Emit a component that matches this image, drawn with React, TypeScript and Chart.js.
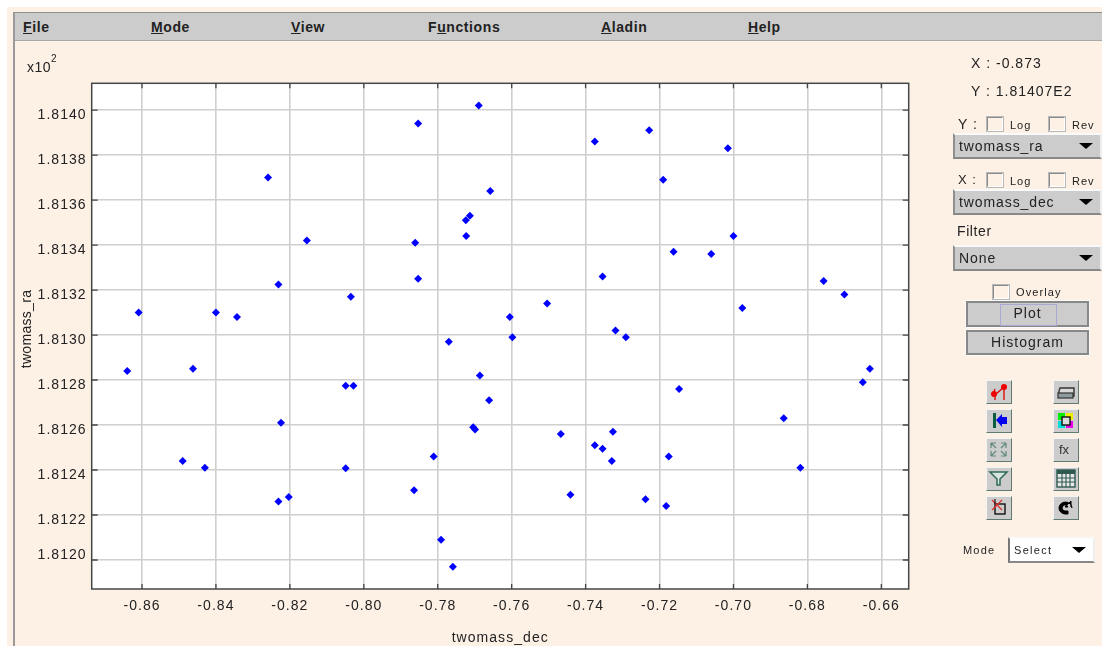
import React, { useEffect, useRef } from "react";
import { Chart, registerables } from "chart.js";

Chart.register(...registerables);

const decValues = [
  -0.7689, -0.7853, -0.8259, -0.7658, -0.7713, -0.7724, -0.7723, -0.8154, -0.7861, -0.7853, -0.8231, -0.8035,
  -0.8609, -0.84, -0.8343, -0.7228, -0.7375, -0.7015, -0.719, -0.7, -0.7162, -0.706, -0.7354, -0.6756,
  -0.67, -0.7504, -0.6976, -0.7605, -0.7319, -0.7291, -0.7598, -0.777, -0.864, -0.8462, -0.7686, -0.8049,
  -0.8028, -0.7661, -0.8224, -0.7704, -0.7699, -0.7811, -0.849, -0.843, -0.8049, -0.7864, -0.8231, -0.8203,
  -0.7791, -0.7759, -0.6631, -0.665, -0.7147, -0.6864, -0.7467, -0.7326, -0.7375, -0.7354, -0.7329, -0.7175,
  -0.6819, -0.7441, -0.7238, -0.7182,
];
const raValues = [
  1.81402, 1.81394, 1.8137, 1.81364, 1.81353, 1.81351, 1.81344, 1.81342, 1.81341, 1.81325, 1.813225, 1.81317,
  1.8131, 1.8131, 1.81308, 1.81391, 1.81386, 1.81383, 1.81369, 1.81344, 1.81337, 1.81336, 1.81326, 1.81324,
  1.81318, 1.81314, 1.81312, 1.81308, 1.81302, 1.81299, 1.81299, 1.81297, 1.81284, 1.81285, 1.81282, 1.812775,
  1.812775, 1.81271, 1.81261, 1.81259, 1.81258, 1.81246, 1.81244, 1.81241, 1.812408, 1.81231, 1.81226, 1.81228,
  1.81209, 1.81197, 1.81285, 1.81279, 1.81276, 1.81263, 1.81256, 1.81257, 1.81251, 1.812495, 1.81244, 1.81246,
  1.81241, 1.81229, 1.81227, 1.81224,
];
const xTickValues = [-0.86, -0.84, -0.82, -0.8, -0.78, -0.76, -0.74, -0.72, -0.7, -0.68, -0.66];
const yTickValues = [1.814, 1.8138, 1.8136, 1.8134, 1.8132, 1.813, 1.8128, 1.8126, 1.8124, 1.8122, 1.812];
const xAxisTitle = "twomass_dec";
const yAxisTitle = "twomass_ra";
const menuItems = [
  { before: "", key: "F", after: "ile", left: 23 },
  { before: "", key: "M", after: "ode", left: 151 },
  { before: "", key: "V", after: "iew", left: 291 },
  { before: "F", key: "u", after: "nctions", left: 428 },
  { before: "", key: "A", after: "ladin", left: 601 },
  { before: "", key: "H", after: "elp", left: 748 },
];

const FONT = '"Liberation Sans", Arial, sans-serif';
const BEIGE = "#fdf1e6";
const GREY = "#cccccc";

const framePlugin = {
  id: "frame",
  beforeDraw(chart: any) {
    const { left, top, width, height } = chart.chartArea;
    chart.ctx.save();
    chart.ctx.fillStyle = "#ffffff";
    chart.ctx.fillRect(left, top, width, height);
    chart.ctx.restore();
    (chart.ctx as any).letterSpacing = "1.05px";
  },
  afterDatasetsDraw(chart: any) {},
  afterDraw(chart: any) {
    const { ctx, chartArea, scales } = chart;
    const { left, right, top, bottom } = chartArea;
    ctx.save();
    ctx.strokeStyle = "#454545";
    ctx.lineWidth = 1.5;
    ctx.strokeRect(left, top, right - left, bottom - top);
    ctx.lineWidth = 1.3;
    ctx.beginPath();
    for (const v of xTickValues) {
      const p = scales.x.getPixelForValue(v);
      ctx.moveTo(p, top);
      ctx.lineTo(p, top + 5);
      ctx.moveTo(p, bottom);
      ctx.lineTo(p, bottom - 5);
    }
    for (const v of yTickValues) {
      const p = scales.y.getPixelForValue(v);
      ctx.moveTo(left, p);
      ctx.lineTo(left + 6, p);
      ctx.moveTo(right, p);
      ctx.lineTo(right - 6, p);
    }
    ctx.stroke();
    ctx.translate(27.5, 329);
    ctx.rotate(-Math.PI / 2);
    (ctx as any).letterSpacing = "0.3px";
    ctx.fillStyle = "#222222";
    ctx.font = `14px ${FONT}`;
    ctx.textAlign = "center";
    ctx.textBaseline = "middle";
    ctx.fillText(yAxisTitle, 0, 0);
    ctx.restore();
  },
};

function Txt(p: { x: number; y: number; s?: number; sp?: number; b?: boolean; children: any }) {
  return (
    <div
      style={{
        position: "absolute",
        left: p.x,
        top: p.y - 10,
        height: 20,
        lineHeight: "20px",
        fontSize: p.s ?? 14,
        letterSpacing: p.sp ?? 1,
        fontWeight: p.b ? 700 : 400,
        color: "#222",
        whiteSpace: "nowrap",
        fontFamily: FONT,
      }}
    >
      {p.children}
    </div>
  );
}

function Check(p: { x: number; y: number }) {
  return (
    <div
      style={{
        position: "absolute",
        left: p.x,
        top: p.y,
        width: 14,
        height: 12,
        background: BEIGE,
        borderTop: "1.5px solid #8a8a8a",
        borderLeft: "1.5px solid #8a8a8a",
        borderRight: "1px solid #ffffff",
        borderBottom: "1px solid #ffffff",
        outline: "0.5px solid #b8b8b8",
      }}
    />
  );
}

function Drop(p: { x: number; y: number; w: number; h: number; label: string; white?: boolean; s?: number; sp?: number }) {
  return (
    <div
      style={{
        position: "absolute",
        left: p.x,
        top: p.y,
        width: p.w,
        height: p.h,
        boxSizing: "border-box",
        background: p.white ? "#fff" : GREY,
        borderTop: "2px solid #fafafa",
        borderLeft: p.white ? "2px solid #777" : "2px solid #8f8f8f",
        borderRight: "2px solid #eeeeee",
        borderBottom: "2px solid #888888",
      }}
    >
      <Txt x={4} y={p.h / 2 - 2} s={p.s ?? 14} sp={p.sp ?? 0.9}>
        {p.label}
      </Txt>
      <div
        style={{
          position: "absolute",
          right: 7,
          top: p.h / 2 - 5,
          width: 0,
          height: 0,
          borderLeft: "7px solid transparent",
          borderRight: "7px solid transparent",
          borderTop: "6px solid #000",
        }}
      />
    </div>
  );
}

function Btn(p: { x: number; y: number; w: number; h: number; label: string; focus?: boolean }) {
  return (
    <div
      style={{
        position: "absolute",
        left: p.x,
        top: p.y,
        width: p.w,
        height: p.h,
        boxSizing: "border-box",
        background: GREY,
        borderTop: "2px solid #888",
        borderLeft: "2px solid #888",
        borderRight: "2px solid #888",
        borderBottom: "2px solid #888",
        outline: "1px solid #fafafa",
        textAlign: "center",
        lineHeight: `${p.h - 5}px`,
        fontSize: 14,
        letterSpacing: 1,
        color: "#222",
        fontFamily: FONT,
      }}
    >
      {p.label}
      {p.focus ? (
        <div
          style={{
            position: "absolute",
            left: 32,
            top: 1,
            width: 55,
            height: 20,
            border: "1px solid #a9a9d6",
          }}
        />
      ) : null}
    </div>
  );
}

function Icon(p: { x: number; y: number; children: any }) {
  return (
    <div
      style={{
        position: "absolute",
        left: p.x,
        top: p.y,
        width: 26,
        height: 24,
        boxSizing: "border-box",
        background: GREY,
        borderTop: "1.5px solid #f4f4f4",
        borderLeft: "1.5px solid #f4f4f4",
        borderRight: "1.5px solid #5f7a70",
        borderBottom: "1.5px solid #5f7a70",
      }}
    >
      <svg width="23" height="21" viewBox="0 0 23 21" style={{ display: "block" }}>
        {p.children}
      </svg>
    </div>
  );
}

export default function App() {
  const ref = useRef<HTMLCanvasElement>(null);

  useEffect(() => {
    const tickFont = { family: FONT, size: 14, lineHeight: 1.4 };
    const chart = new Chart(ref.current as HTMLCanvasElement, {
      type: "scatter",
      data: {
        datasets: [
          {
            label: yAxisTitle,
            data: decValues.map((x, i) => ({ x, y: raValues[i] })),
            backgroundColor: "#0000ff",
            borderColor: "#0000ff",
            pointStyle: "rectRot",
            pointRadius: 4,
            pointBorderWidth: 0,
          },
        ],
      },
      options: {
        animation: false,
        responsive: false,
        layout: { padding: { top: 83.3, right: 193.3, left: 0, bottom: 0 } },
        plugins: { legend: { display: false }, tooltip: { enabled: false } },
        scales: {
          x: {
            type: "linear",
            min: -0.87361,
            max: -0.65259,
            afterBuildTicks: (s: any) => {
              s.ticks = xTickValues.map((value) => ({ value }));
            },
            afterFit: (s: any) => {
              s.height = 57;
            },
            border: { display: false },
            grid: { color: "#cfcfcf", lineWidth: 1.6, drawTicks: false },
            ticks: {
              autoSkip: false,
              maxRotation: 0,
              padding: 9,
              color: "#222222",
              font: { family: FONT, size: 14 },
              callback: (v: any) => Number(v).toFixed(2),
            },
            title: {
              display: true,
              text: xAxisTitle,
              color: "#222222",
              font: { family: FONT, size: 14 },
              padding: { top: 0, bottom: -1 },
            },
          },
          y: {
            type: "linear",
            min: 1.811871,
            max: 1.814119,
            afterBuildTicks: (s: any) => {
              s.ticks = yTickValues.map((value) => ({ value }));
            },
            afterFit: (s: any) => {
              s.width = 91.7;
            },
            border: { display: false },
            grid: { color: "#cfcfcf", lineWidth: 1.6, drawTicks: false },
            ticks: {
              autoSkip: false,
              padding: 5,
              labelOffset: 4.7,
              color: "#222222",
              font: tickFont,
              callback: (v: any) => {
                const t = Number(v).toFixed(4);
                return Number(v) === yTickValues[yTickValues.length - 1] ? [t, ""] : t;
              },
            },
          },
        },
      } as any,
      plugins: [framePlugin],
    });
    return () => chart.destroy();
  }, []);

  return (
    <div
      style={{
        position: "absolute",
        left: 0,
        top: 0,
        width: 1102,
        height: 646,
        overflow: "hidden",
        background: "#fff",
        fontFamily: FONT,
        filter: "blur(0.35px)",
      }}
    >
      <div style={{ position: "absolute", left: 7, top: 7, width: 1095, height: 639, background: BEIGE }} />
      <div
        style={{
          position: "absolute",
          left: 14,
          top: 12,
          width: 1088,
          height: 29,
          boxSizing: "border-box",
          background: GREY,
          borderTop: "1.5px solid #8c8c8c",
          borderBottom: "1.5px solid #a8a8a8",
        }}
      />
      <div style={{ position: "absolute", left: 13, top: 12, width: 2, height: 634, background: "#9a9a9a" }} />
      {menuItems.map((m) => (
        <Txt key={m.left} x={m.left} y={27} b sp={0.6}>
          {m.before}
          <span style={{ textDecoration: "underline" }}>{m.key}</span>
          {m.after}
        </Txt>
      ))}
      <canvas ref={ref} width={1102} height={646} style={{ position: "absolute", left: 0, top: 0, display: "block" }} />
      <Txt x={27} y={67} s={14} sp={0.5}>
        x10
      </Txt>
      <Txt x={51} y={59} s={10} sp={0}>
        2
      </Txt>

      <Txt x={971} y={62.5}>X : -0.873</Txt>
      <Txt x={971} y={90.5}>Y : 1.81407E2</Txt>

      <Txt x={958} y={124}>Y :</Txt>
      <Check x={987} y={117} />
      <Txt x={1010} y={124.5} s={11} sp={1}>Log</Txt>
      <Check x={1049} y={117} />
      <Txt x={1072} y={124.5} s={11} sp={1}>Rev</Txt>
      <Drop x={953} y={133} w={149} h={26} label={yAxisTitle} />

      <Txt x={958} y={180} s={13}>X :</Txt>
      <Check x={987} y={173} />
      <Txt x={1010} y={180.5} s={11} sp={1}>Log</Txt>
      <Check x={1049} y={173} />
      <Txt x={1072} y={180.5} s={11} sp={1}>Rev</Txt>
      <Drop x={953} y={189} w={149} h={26} label={xAxisTitle} />

      <Txt x={957} y={230.5} sp={0.6}>Filter</Txt>
      <Drop x={953} y={245} w={149} h={26} label="None" />

      <Check x={993} y={285} />
      <Txt x={1016} y={292} s={11} sp={1.1}>Overlay</Txt>
      <Btn x={966} y={301} w={123} h={26} label="Plot" focus />
      <Btn x={966} y={330} w={123} h={25} label="Histogram" />

      <Icon x={986} y={380}>
        <path d="M6 14 L8 8 M8 14V19 M17 6 L9 13 M17 7V19" stroke="#e00000" strokeWidth="1.3" fill="none" />
        <circle cx="7" cy="13" r="3" fill="#ee0000" />
        <circle cx="17" cy="6" r="3" fill="#ee0000" />
      </Icon>
      <Icon x={1053} y={380}>
        <path d="M6 7 h14 v8 h-15 v-5z" fill="#d8d8d8" stroke="#333" strokeWidth="1.4" />
        <rect x="4" y="12" width="15" height="5" fill="#8d9aa0" stroke="#333" strokeWidth="1.2" />
      </Icon>
      <Icon x={986} y={409}>
        <rect x="6" y="3" width="3" height="15" fill="#0b5d3f" />
        <path d="M9 10 L15 4 V7 H20 V14 H15 V17 Z" fill="#0000ee" />
      </Icon>
      <Icon x={1053} y={409}>
        <rect x="4" y="3" width="7" height="7" fill="#00ee00" />
        <rect x="12" y="3" width="7" height="7" fill="#eeee00" />
        <rect x="4" y="11" width="7" height="7" fill="#00dddd" />
        <rect x="12" y="11" width="7" height="7" fill="#ee00ee" />
        <rect x="8" y="7" width="8" height="8" fill="#ddd" stroke="#111" strokeWidth="1.4" />
      </Icon>
      <Icon x={986} y={438}>
        <path d="M4 4 h5 M4 4 v5 M4 4 l5 5 M19 4 h-5 M19 4 v5 M19 4 l-5 5 M4 17 h5 M4 17 v-5 M4 17 l5 -5 M19 17 h-5 M19 17 v-5 M19 17 l-5 -5" stroke="#5f8a7a" strokeWidth="1.2" fill="none" />
      </Icon>
      <Icon x={1053} y={438}>
        <text x="5" y="15" fontSize="13" fontFamily={FONT} fill="#333">fx</text>
      </Icon>
      <Icon x={986} y={467}>
        <path d="M3 4 H20 L13 11 V17 H10 V11 Z" fill="#d8e4e0" stroke="#2e6a58" strokeWidth="1.5" />
      </Icon>
      <Icon x={1053} y={467}>
        <rect x="3" y="2" width="18" height="17" fill="#e8e8e8" stroke="#2e5a50" strokeWidth="1.4" />
        <rect x="3" y="2" width="18" height="4" fill="#2e5a50" />
        <path d="M3 10 H21 M3 14 H21 M8 6 V19 M12 6 V19 M16 6 V19" stroke="#2e5a50" strokeWidth="1.1" />
      </Icon>
      <Icon x={986} y={496}>
        <rect x="8" y="7" width="10" height="10" fill="none" stroke="#111" strokeWidth="1.4" />
        <path d="M5 3 L15 13 M15 3 L5 13" stroke="#e03030" strokeWidth="1.3" />
        <path d="M8 2 V7" stroke="#111" strokeWidth="1.2" />
      </Icon>
      <Icon x={1053} y={496}>
        <path d="M18 11 A6.5 6 0 1 0 11 17 H14 V14 H11 A3 3 0 1 1 14 10 H11 L17 4 V10" fill="#000" stroke="#000" strokeWidth="1" />
      </Icon>

      <Txt x={963} y={550} s={11} sp={1.2}>Mode</Txt>
      <Drop x={1008} y={537} w={87} h={26} label="Select" white s={11} sp={1.3} />
    </div>
  );
}
